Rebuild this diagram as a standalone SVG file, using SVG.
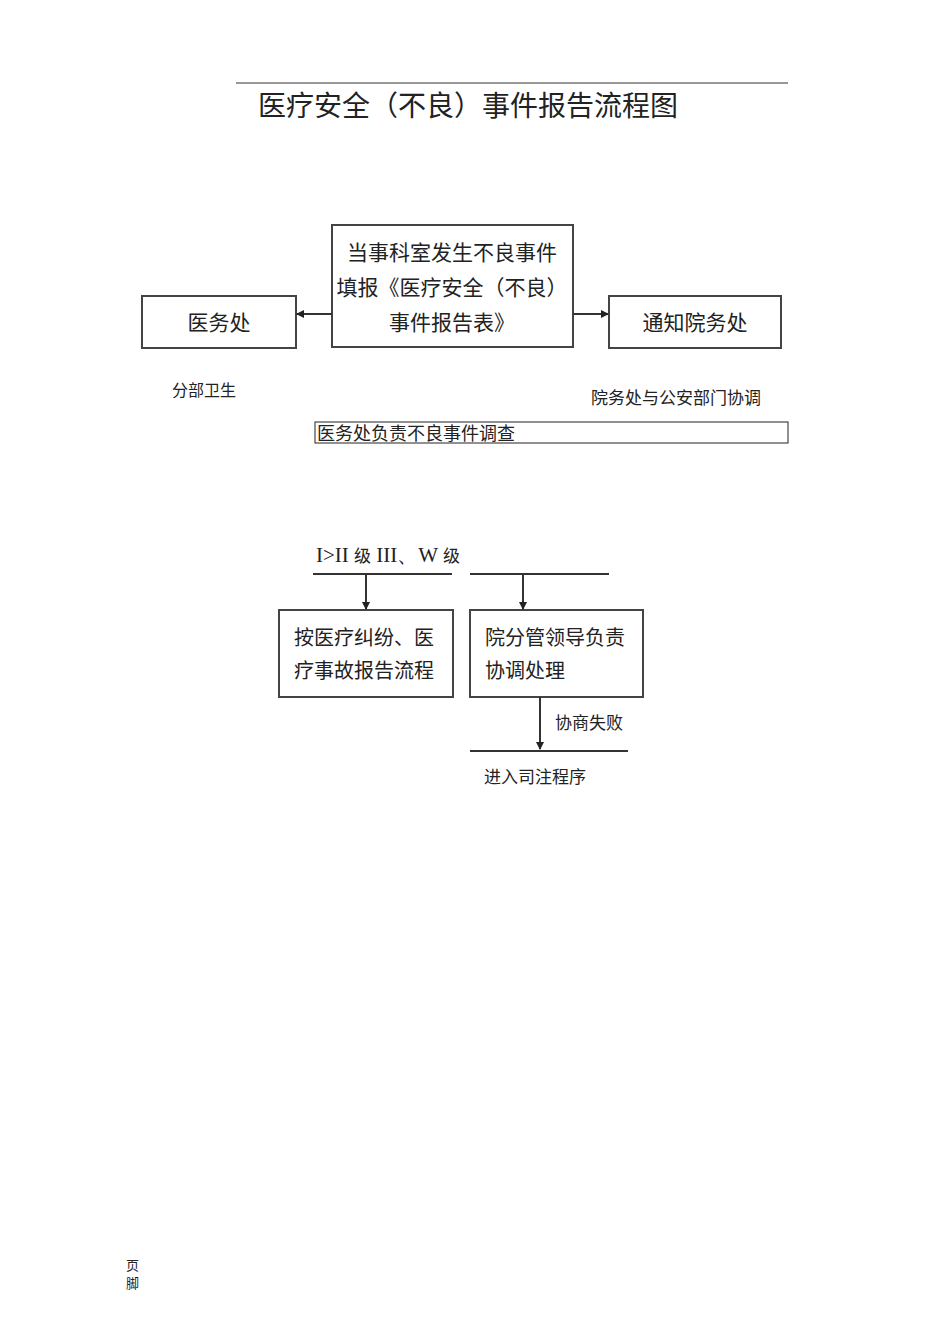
<svg xmlns="http://www.w3.org/2000/svg" width="950" height="1344" viewBox="0 0 950 1344">
<style>
.t{font-family:"Noto Sans CJK SC","Noto Sans",sans-serif;fill:#222}
.b{fill:#fff;stroke:#444;stroke-width:2}
.l{stroke:#333;stroke-width:2;fill:none}
</style>
<defs><marker id="a" markerWidth="8" markerHeight="8" refX="7" refY="4" orient="auto" markerUnits="userSpaceOnUse"><path d="M0,0L8,4L0,8z" fill="#222"/></marker></defs>
<rect width="950" height="1344" fill="#fff"/>
<line x1="236" y1="83" x2="788" y2="83" stroke="#333" stroke-width="1"/>
<text class="t" x="468" y="116" font-size="28" text-anchor="middle">医疗安全（不良）事件报告流程图</text>
<g id="n1"><rect class="b" x="332" y="225" width="241" height="122"/>
<text class="t" x="452" y="260" font-size="21" text-anchor="middle">当事科室发生不良事件</text>
<text class="t" x="452" y="295" font-size="21" text-anchor="middle">填报《医疗安全（不良）</text>
<text class="t" x="452" y="330" font-size="21" text-anchor="middle">事件报告表》</text></g>
<g id="n2"><rect class="b" x="142" y="296" width="154" height="52"/>
<text class="t" x="219" y="330" font-size="21" text-anchor="middle">医务处</text></g>
<g id="n3"><rect class="b" x="609" y="296" width="172" height="52"/>
<text class="t" x="695" y="330" font-size="21" text-anchor="middle">通知院务处</text></g>
<text class="t" x="172" y="396" font-size="16">分部卫生</text>
<text class="t" x="591" y="404" font-size="17">院务处与公安部门协调</text>
<g id="n4"><rect x="315" y="422" width="473" height="21" fill="#fff" stroke="#222" stroke-width="1"/>
<text class="t" x="317" y="440" font-size="18">医务处负责不良事件调查</text></g>
<text x="316" y="562" font-size="21" font-family="Liberation Serif,serif" fill="#222">I&gt;II <tspan font-family="Noto Sans CJK SC,sans-serif" font-size="17">级</tspan> III、W <tspan font-family="Noto Sans CJK SC,sans-serif" font-size="17">级</tspan></text>
<g id="n5"><rect class="b" x="279" y="610" width="174" height="87" stroke-width="3"/>
<text class="t" x="294" y="645" font-size="20">按医疗纠纷、医</text>
<text class="t" x="294" y="678" font-size="20">疗事故报告流程</text></g>
<g id="n6"><rect class="b" x="470" y="610" width="173" height="87"/>
<text class="t" x="485" y="645" font-size="20">院分管领导负责</text>
<text class="t" x="485" y="678" font-size="20">协调处理</text></g>
<text class="t" x="555" y="729" font-size="17">协商失败</text>
<text class="t" x="484" y="783" font-size="17">进入司注程序</text>
<g id="connectors">
<line class="l" x1="332" y1="314" x2="297" y2="314" marker-end="url(#a)"/>
<line class="l" x1="573" y1="314" x2="608" y2="314" marker-end="url(#a)"/>
<line class="l" x1="313" y1="574" x2="452" y2="574"/>
<line class="l" x1="366" y1="574" x2="366" y2="609" marker-end="url(#a)"/>
<line class="l" x1="470" y1="574" x2="609" y2="574"/>
<line class="l" x1="523" y1="574" x2="523" y2="609" marker-end="url(#a)"/>
<line class="l" x1="540" y1="697" x2="540" y2="749" marker-end="url(#a)"/>
<line class="l" x1="470" y1="751" x2="628" y2="751"/>
</g>
<text class="t" x="126" y="1270" font-size="13">页</text>
<text class="t" x="126" y="1288" font-size="13">脚</text>
</svg>
